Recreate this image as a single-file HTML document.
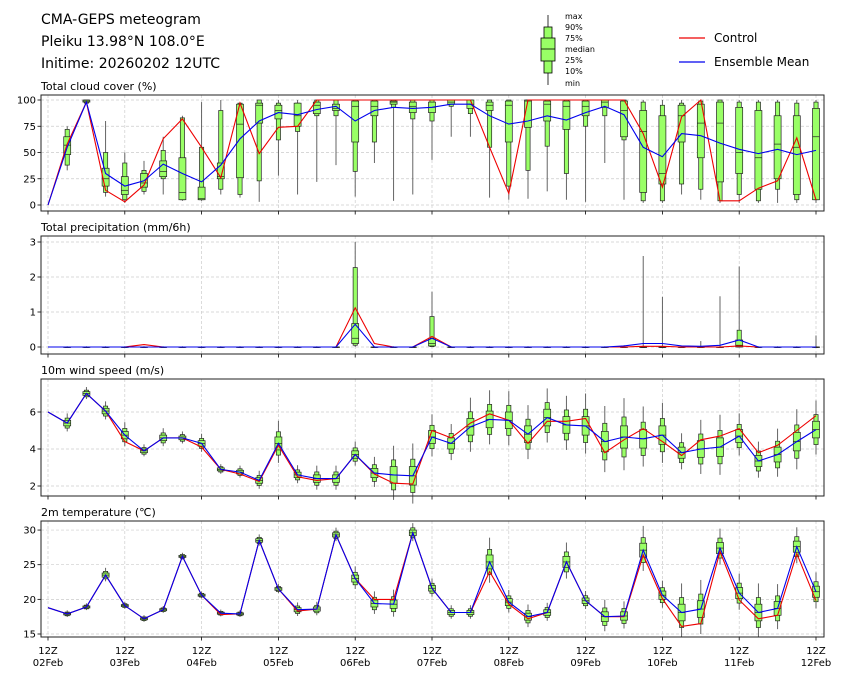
<!DOCTYPE html>
<html><head><meta charset="utf-8"><style>
body{margin:0;background:#fff;}
svg{display:block;font-family:"DejaVu Sans","Liberation Sans",sans-serif;}
</style></head><body>
<svg id="s" width="841" height="680" xmlns="http://www.w3.org/2000/svg">
<rect width="841" height="680" fill="#fff"/>
<text x="41" y="24" font-size="14">CMA-GEPS meteogram</text>
<text x="41" y="46" font-size="14">Pleiku 13.98°N 108.0°E</text>
<text x="41" y="68" font-size="14">Initime: 20260202 12UTC</text>
<g stroke="#000" stroke-width="0.8">
<line x1="548" y1="15" x2="548" y2="85"/>
<rect x="544" y="27" width="8" height="46" fill="#99ff66"/>
<rect x="541" y="38" width="14" height="23" fill="#99ff66"/>
<line x1="541" y1="49" x2="555" y2="49"/>
</g>
<g font-size="8">
<text x="565" y="19">max</text><text x="565" y="30">90%</text><text x="565" y="41">75%</text>
<text x="565" y="52">median</text><text x="565" y="63">25%</text><text x="565" y="74">10%</text><text x="565" y="86">min</text>
</g>
<line x1="679" y1="38" x2="705" y2="38" stroke="#e00" stroke-width="1.2"/>
<text x="714" y="42" font-size="12">Control</text>
<line x1="679" y1="62" x2="705" y2="62" stroke="#00e" stroke-width="1.2"/>
<text x="714" y="66" font-size="12">Ensemble Mean</text>
<g id="g"></g>
</svg>
<script>
const g=document.getElementById('g');
let html='';
const X=i=>48+19.2*i;
const L=41,R=824;
function panel(top,bot,title,ticks,yf,ctrl,mean,boxes,bw){
  ticks.forEach(t=>{const y=yf(t);html+=`<line x1="${L}" y1="${y}" x2="${R}" y2="${y}" stroke="#ccc" stroke-width="0.7" stroke-dasharray="3,2"/>`;
   html+=`<line x1="${L-3.5}" y1="${y}" x2="${L}" y2="${y}" stroke="#000" stroke-width="0.8"/>`;
   html+=`<text x="${L-5}" y="${y+3.5}" font-size="10" text-anchor="end">${t}</text>`;});
  for(let d=0;d<=10;d++){const x=X(d*4);html+=`<line x1="${x}" y1="${top}" x2="${x}" y2="${bot}" stroke="#ccc" stroke-width="0.7" stroke-dasharray="3,2"/>`;
   html+=`<line x1="${x}" y1="${bot}" x2="${x}" y2="${bot+3.5}" stroke="#000" stroke-width="0.8"/>`;}
  html+=`<text x="${L}" y="${top-5}" font-size="11">${title}</text>`;
  boxes.forEach((b,k)=>{ if(!b)return; const x=X(k);
    const [mn,p10,p25,md,p75,p90,mx]=b.map(yf);
    html+=`<line x1="${x}" y1="${mx}" x2="${x}" y2="${mn}" stroke="#555" stroke-width="0.9"/>`;
    html+=`<rect x="${x-bw*0.3}" y="${p90}" width="${bw*0.6}" height="${Math.max(p10-p90,0.5)}" fill="#99ff66" stroke="#222" stroke-width="0.7"/>`;
    html+=`<rect x="${x-bw/2}" y="${p75}" width="${bw}" height="${Math.max(p25-p75,0.5)}" fill="#99ff66" stroke="#222" stroke-width="0.7"/>`;
    html+=`<line x1="${x-bw/2}" y1="${md}" x2="${x+bw/2}" y2="${md}" stroke="#222" stroke-width="0.7"/>`;
  });
  const pl=a=>a.map((v,i)=>X(i).toFixed(1)+','+yf(v).toFixed(1)).join(' ');
  html+=`<polyline points="${pl(ctrl)}" fill="none" stroke="#e00" stroke-width="1.1"/>`;
  html+=`<polyline points="${pl(mean)}" fill="none" stroke="#00e" stroke-width="1.1"/>`;
  html+=`<rect x="${L}" y="${top}" width="${R-L}" height="${bot-top}" fill="none" stroke="#222" stroke-width="1"/>`;
}
const cc=[0,58,98,14,3,19,63,82,55,26,97,49,74,75,100,100,100,100,100,100,100,100,100,55,11,100,100,100,100,100,100,68,17,84,100,4,4,16,23,64,5];
const cm=[0,55,98,30,18,23,39,30,22,38,63,80,88,86,91,94,80,90,93,92,93,96,96,85,77,80,85,81,88,94,86,55,46,68,66,59,53,49,53,48,52];
const cb=[null,[33,38,48,57,65,72,75],[97,97,98,99,100,100,100],[8,12,18,25,35,50,80],[2,5,10,14,27,40,50],[10,13,17,21,30,33,42],[10,25,27,32,42,52,65],[4,5,5,12,45,83,85],[4,5,5,6,17,55,98],[10,15,25,27,40,90,100],[7,10,26,77,96,97,98],[3,23,78,95,97,100,100],[28,62,82,90,95,97,100],[10,70,75,85,97,97,100],[22,85,87,95,98,100,100],[38,85,90,92,96,100,100],[8,32,60,94,99,100,100],[40,60,85,94,99,100,100],[4,93,96,98,99,100,100],[10,82,88,94,98,100,100],[43,80,88,93,98,100,100],[65,94,96,98,100,100,100],[65,87,92,96,100,100,100],[7,55,90,95,98,100,100],[5,18,60,95,99,100,100],[6,33,74,99,100,100,100],[13,56,80,96,99,100,100],[5,30,72,94,99,100,100],[3,75,85,94,99,100,100],[40,85,93,98,100,100,100],[5,62,65,90,99,100,100],[2,4,12,70,90,98,100],[2,4,20,30,85,95,100],[10,20,60,85,95,97,100],[5,15,45,78,96,99,100],[2,4,22,78,98,100,100],[2,10,30,50,93,98,100],[2,4,15,45,90,98,100],[2,15,25,58,85,98,100],[2,5,10,55,85,97,100],[2,5,5,65,92,98,100]];
panel(95,211,'Total cloud cover (%)',[0,25,50,75,100],v=>205-v*1.05,cc,cm,cb,7);
const pc=new Array(41).fill(0),pm=new Array(41).fill(0);
pc[5]=0.07;pc[16]=1.12;pc[17]=0.1;pc[20]=0.3;pc[31]=0.02;pc[32]=0.02;pc[36]=0.03;
pm[16]=0.65;pm[20]=0.25;pm[30]=0.03;pm[31]=0.1;pm[32]=0.1;pm[33]=0.03;pm[34]=0.02;pm[35]=0.05;pm[36]=0.2;
const pb=[];for(let i=1;i<=40;i++)pb[i]=[0,0,0,0,0,0,0.02];
pb[16]=[0,0.05,0.1,0.25,0.67,2.27,3.0];pb[20]=[0,0.01,0.03,0.1,0.25,0.87,1.58];
pb[31]=[0,0,0,0,0,0,2.6];pb[32]=[0,0,0,0,0,0,1.43];pb[34]=[0,0,0,0,0,0,0.17];pb[35]=[0,0,0,0,0,0,1.45];
pb[36]=[0,0,0,0.05,0.2,0.48,2.3];pb[40]=[0,0,0,0,0,0,0.33];pb[30]=[0,0,0,0,0,0,0.05];
panel(236,354,'Total precipitation (mm/6h)',[0,1,2,3],v=>347-v*35,pc,pm,pb,7);
const wc=[6.0,5.4,7.0,6.05,4.4,3.9,4.6,4.6,4.1,2.9,2.65,2.25,4.2,2.5,2.3,2.4,3.7,2.65,2.15,2.1,5.0,4.6,5.4,5.9,5.55,4.3,5.5,5.5,5.65,3.8,4.5,5.1,4.4,3.65,4.5,4.7,5.1,3.8,4.2,5.0,5.8];
const wm=[6.0,5.4,7.0,6.05,4.75,3.9,4.6,4.6,4.3,2.9,2.75,2.3,4.3,2.6,2.4,2.4,3.7,2.7,2.6,2.55,4.65,4.3,5.2,5.6,5.55,4.8,5.7,5.3,5.25,4.4,4.65,4.55,4.75,3.8,4.0,4.1,4.7,3.35,3.7,4.4,5.05];
const ws=[0,0.15,0.1,0.15,0.2,0.1,0.15,0.1,0.15,0.08,0.1,0.15,0.35,0.15,0.2,0.2,0.2,0.25,0.45,0.5,0.35,0.3,0.45,0.45,0.45,0.45,0.45,0.45,0.5,0.55,0.6,0.5,0.5,0.3,0.45,0.5,0.35,0.3,0.4,0.5,0.45];
const mk=(m,s)=>[m-3*s,m-1.8*s,m-s,m,m+s,m+1.8*s,m+3.5*s];
const wb=[];for(let i=1;i<=40;i++)wb[i]=mk(wm[i],ws[i]);
panel(379,496,'10m wind speed (m/s)',[2,4,6],v=>486-(v-2)*18.5,wc,wm,wb,7);
const tc=[18.8,17.9,18.9,23.5,19.1,17.2,18.5,26.2,20.6,17.8,17.9,28.5,21.5,18.3,18.6,29.3,23.0,20.0,20.0,29.6,21.6,18.1,18.1,24.0,19.3,17.2,18.1,25.4,19.8,17.5,17.5,26.4,20.1,16.1,16.5,26.9,19.9,17.2,17.7,26.6,19.8];
const tm=[18.8,17.9,18.9,23.5,19.1,17.2,18.5,26.2,20.6,18.0,17.9,28.5,21.5,18.5,18.6,29.3,23.0,19.4,19.3,29.6,21.6,18.1,18.1,25.4,19.6,17.5,18.1,25.4,19.8,17.5,17.6,27.1,20.6,18.1,18.6,27.4,20.9,18.1,18.7,27.6,21.1];
const ts=[0,0.15,0.15,0.3,0.15,0.15,0.15,0.15,0.15,0.15,0.15,0.25,0.2,0.3,0.3,0.3,0.5,0.5,0.6,0.4,0.4,0.3,0.3,1.0,0.5,0.5,0.4,0.8,0.4,0.7,0.6,1.0,0.6,1.2,1.2,0.8,0.8,1.2,1.0,0.8,0.8];
const tb=[];for(let i=1;i<=40;i++)tb[i]=mk(tm[i],ts[i]);
panel(521,637,'2m temperature (℃)',[15,20,25,30],v=>634-(v-15)*6.93,tc,tm,tb,7);
const days=['02Feb','03Feb','04Feb','05Feb','06Feb','07Feb','08Feb','09Feb','10Feb','11Feb','12Feb'];
days.forEach((d,k)=>{const x=X(k*4);html+=`<text x="${x}" y="654" font-size="10" text-anchor="middle">12Z</text><text x="${x}" y="666" font-size="10" text-anchor="middle">${d}</text>`;});
g.innerHTML=html;
</script>
</body></html>
